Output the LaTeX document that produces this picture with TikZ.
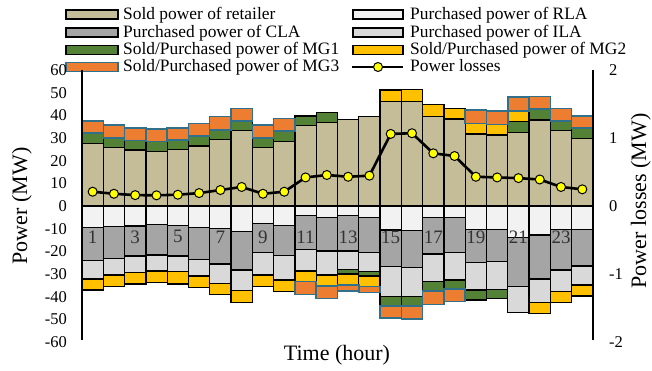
\documentclass[tikz,border=0pt]{standalone}
\usepackage{fontspec}
\setmainfont{Liberation Serif}
\definecolor{tanc}{HTML}{C4BD97}
\definecolor{rlac}{HTML}{F2F2F2}
\definecolor{clac}{HTML}{A5A5A5}
\definecolor{ilac}{HTML}{D9D9D9}
\definecolor{mgonec}{HTML}{538135}
\definecolor{mgtwoc}{HTML}{FFC000}
\definecolor{mgthreec}{HTML}{ED7D31}
\definecolor{tealc}{HTML}{31708A}
\definecolor{lossc}{HTML}{FFFF00}
\tikzset{
  bar/.style={draw=black, line width=1.3pt},
  retailer/.style={bar, fill=tanc},
  rla/.style={bar, fill=rlac},
  cla/.style={bar, fill=clac},
  ila/.style={bar, fill=ilac},
  mgone/.style={bar, fill=mgonec},
  mgtwo/.style={bar, fill=mgtwoc},
  mgthree/.style={draw=tealc, line width=1.5pt, fill=mgthreec},
  axisline/.style={line width=1.6pt},
  lossline/.style={line width=2.6pt},
  lossdot/.style={circle, draw=black, line width=1pt, fill=lossc, minimum size=9pt, inner sep=0pt},
  legtext/.style={anchor=base west, inner sep=0pt, font=\fontsize{17.4}{20}\selectfont},
  ticklab/.style={inner sep=0pt, font=\fontsize{16.5}{18}\selectfont},
  hourlab/.style={inner sep=0pt, text=black!80, font=\fontsize{19}{21}\selectfont},
  axistitle/.style={inner sep=0pt, anchor=base, font=\fontsize{22}{24}\selectfont},
}
\begin{document}
\begin{tikzpicture}[x=1pt,y=1pt]
\useasboundingbox (0,0) rectangle (652,370);
% legend
\draw[retailer] (66,351) rectangle (118,360);
\node[legtext] (lretailer) at (123,350.3) {Sold power of retailer};
\draw[cla] (66,333) rectangle (118,342);
\node[legtext] (lcla) at (123,332.5) {Purchased power of CLA};
\draw[mgone] (66,315.5) rectangle (118,324.5);
\node[legtext] (lmgone) at (123,315) {Sold/Purchased power of MG1};
\draw[mgthree] (66,298.5) rectangle (118,307.5);
\node[legtext] (lmgthree) at (123,298) {Sold/Purchased power of MG3};
\draw[rla] (353,351) rectangle (403,360);
\node[legtext] (lrla) at (410,350.3) {Purchased power of RLA};
\draw[ila] (353,333) rectangle (403,342);
\node[legtext] (lila) at (410,332.5) {Purchased power of ILA};
\draw[mgtwo] (353,315.5) rectangle (403,324.5);
\node[legtext] (lmgtwo) at (410,315) {Sold/Purchased power of MG2};
\coordinate (lossa) at (352,303);
\coordinate (lossb) at (403,303);
\draw[lossline] (lossa) -- (lossb);
\node[lossdot] (ldot) at (378,303) {};
\node[legtext] (lloss) at (410,298) {Power losses};
% plot area
\begin{scope}[shift={(82,164)},x=21.29pt,y=2.267pt]
  % retailer, RLA, CLA, ILA
  \foreach \h/\r/\p/\q/\s in {1/27.7/-9.6/-24.1/-32.2, 2/25.9/-9.1/-23.1/-30.4,
      3/24.7/-8.8/-22.1/-29.4, 4/24.1/-8.2/-21.6/-28.7, 5/25.0/-8.5/-22.1/-29.0,
      6/26.5/-9.6/-23.5/-30.9, 7/29.4/-9.9/-25.6/-34.1, 8/33.4/-11.3/-28.2/-37.4,
      9/25.9/-7.6/-20.6/-30.4, 10/28.4/-8.5/-21.9/-32.6, 11/35.4/-4.3/-19.1/-28.7,
      12/36.7/-5.0/-19.9/-30.4, 13/38.2/-4.3/-19.9/-27.9, 14/39.4/-5.0/-20.6/-29.0,
      15/46.0/-10.6/-26.8/-40.0, 16/46.2/-10.7/-27.2/-40.0, 17/39.4/-5.0/-21.2/-33.4,
      18/38.4/-5.0/-20.4/-32.6, 19/31.8/-10.3/-24.8/-37.1, 20/31.3/-10.3/-24.6/-36.8,
      21/32.5/-14.0/-35.6/-47.1, 22/38.0/-12.8/-32.2/-42.5, 23/33.2/-10.3/-28.2/-37.8,
      24/29.9/-10.3/-26.5/-34.8} {
    \draw[retailer] (\h-1,0) rectangle (\h,\r);
    \draw[rla] (\h-1,0) rectangle (\h,\p);
    \draw[cla] (\h-1,\p) rectangle (\h,\q);
    \draw[ila] (\h-1,\q) rectangle (\h,\s);
  }
  % MG1
  \foreach \h/\b/\t in {1/27.7/32.1, 2/25.9/30.1, 3/24.7/28.8, 4/24.1/28.4,
      5/25.0/29.1, 6/26.5/30.9, 7/29.4/33.5, 8/33.4/37.5, 9/25.9/30.1, 10/28.4/33.1,
      11/35.4/39.7, 12/36.7/41.3, 21/32.5/37.2, 22/38.0/42.8, 23/33.2/37.5, 24/29.9/34.3,
      13/-27.9/-30.0, 14/-29.0/-30.9, 15/-40.0/-44.1, 16/-40.0/-44.1,
      17/-33.4/-37.4, 18/-32.6/-36.7, 19/-37.1/-41.5, 20/-36.8/-40.9}
    \draw[mgone] (\h-1,\b) rectangle (\h,\t);
  % MG2
  \foreach \h/\b/\t in {15/46.0/51.2, 16/46.2/51.5, 17/39.4/44.9, 18/38.4/43.1,
      19/31.8/36.5, 20/31.3/36.0, 21/37.2/42.0,
      1/-32.2/-37.1, 2/-30.4/-35.6, 3/-29.4/-34.4, 4/-28.7/-33.8, 5/-29.0/-34.4,
      6/-30.9/-36.0, 7/-34.1/-39.0, 8/-37.4/-42.6, 9/-30.4/-35.6, 10/-32.6/-37.8,
      11/-28.7/-33.4, 12/-30.4/-35.2, 13/-30.0/-34.8, 14/-30.9/-35.6,
      22/-42.5/-47.3, 23/-37.8/-42.6, 24/-34.8/-39.7}
    \draw[mgtwo] (\h-1,\b) rectangle (\h,\t);
  % MG3
  \foreach \h/\b/\t in {1/32.1/37.5, 2/30.1/35.7, 3/28.8/34.3, 4/28.4/34.0,
      5/29.1/34.5, 6/30.9/36.5, 7/33.5/39.4, 8/37.5/43.1, 9/30.1/35.7, 10/33.1/38.7,
      19/36.5/42.3, 20/36.0/41.9, 21/42.0/48.0, 22/42.8/48.4, 23/37.5/43.1, 24/34.3/39.7,
      11/-33.4/-39.0, 12/-35.2/-40.7, 13/-34.8/-37.4, 14/-35.6/-38.2,
      15/-44.1/-49.5, 16/-44.1/-49.8, 17/-37.4/-43.4, 18/-36.7/-42.2}
    \draw[mgthree] (\h-1,\b) rectangle (\h,\t);
  % axes
  \coordinate (lefttop) at (0,60);
  \coordinate (leftbot) at (0,-59);
  \coordinate (righttop) at (24,60);
  \coordinate (rightbot) at (24,-59);
  \draw[axisline] (lefttop) -- (leftbot);
  \draw[axisline] (righttop) -- (rightbot);
  \foreach \v [count=\i] in {-60,-50,...,60}
    \node[ticklab, anchor=east] (yl\i) at ([xshift=-15pt]0,\v) {\v};
  \foreach \h in {1,3,...,23}
    \node[hourlab] (hr\h) at (\h-0.5,-13.6) {\h};
  % power losses
  \begin{scope}[y=68pt]
    \foreach \v [count=\i] in {-2,...,2}
      \node[ticklab, anchor=west] (yr\i) at ([xshift=16pt]24,\v) {\v};
    \foreach \l [count=\h] in {0.21,0.18,0.16,0.157,0.166,0.19,0.235,0.28,0.18,0.21,
        0.42,0.456,0.43,0.446,1.06,1.07,0.775,0.735,0.43,0.42,0.41,0.39,0.28,0.245}
      \coordinate (p\h) at (\h-0.5,\l);
    \draw[lossline] (p1) \foreach \h in {2,...,24} { -- (p\h) };
    \foreach \h in {1,...,24}
      \node[lossdot] (d\h) at (p\h) {};
  \end{scope}
\end{scope}
% axis titles
\node[axistitle, rotate=90] (ytitle) at (27,164) {Power (MW)};
\node[axistitle, rotate=90] (y2title) at (646,169) {Power losses (MW)};
\node[axistitle] (xtitle) at (337,10) {Time (hour)};
\end{tikzpicture}
\end{document}
